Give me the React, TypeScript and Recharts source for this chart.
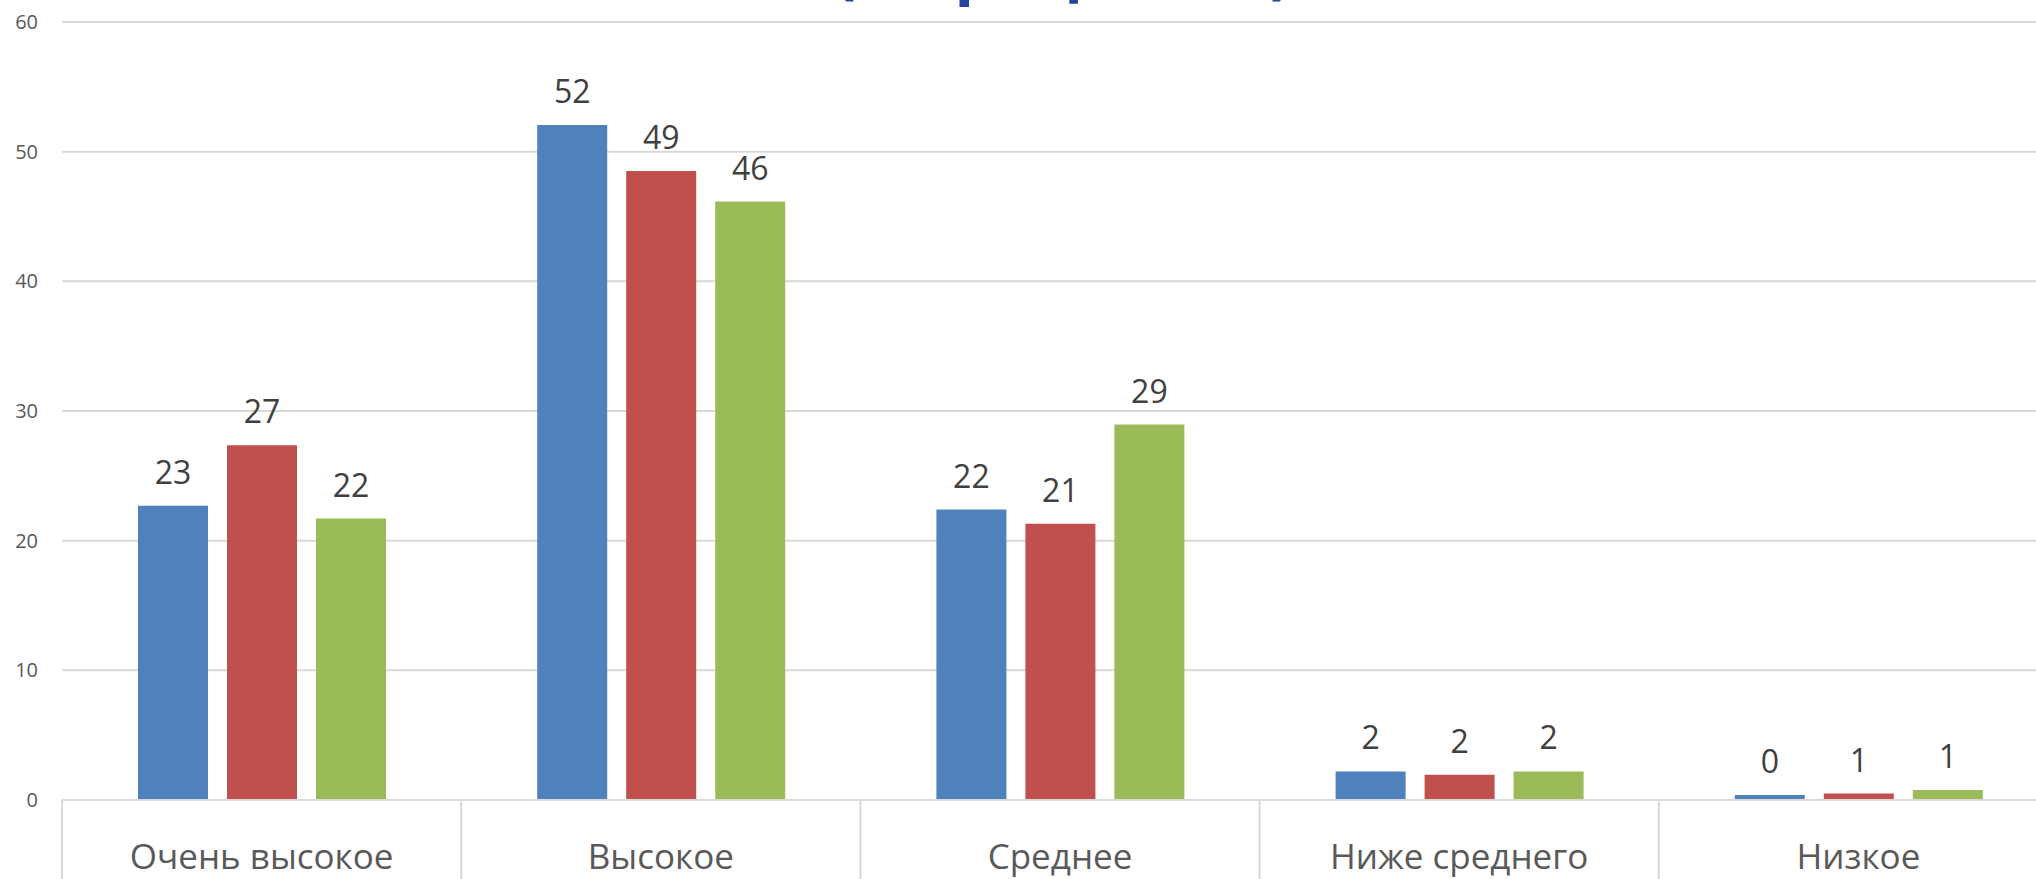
import { BarChart, Bar, XAxis, YAxis, CartesianGrid, LabelList } from "recharts";

const categories = ["Очень высокое", "Высокое", "Среднее", "Ниже среднего", "Низкое"];
const seriesA = [22.7, 52.05, 22.4, 2.2, 0.38];
const seriesB = [27.35, 48.5, 21.3, 1.95, 0.5];
const seriesC = [21.7, 46.15, 28.95, 2.2, 0.77];
const yTicks = [0, 10, 20, 30, 40, 50, 60];

const data = categories.map((name, i) => ({
  name,
  a: seriesA[i],
  b: seriesB[i],
  c: seriesC[i],
}));

const CHART_W = 2060;
const CHART_H = 879;
const Y_W = 62;
const M_RIGHT = 2;
const BAND = (CHART_W - Y_W - M_RIGHT) / categories.length;
const FONT = "'Open Sans', 'Noto Sans', sans-serif";

function CategoryTick(props: any) {
  const { x, y, payload } = props;
  const left = x - BAND / 2;
  return (
    <g>
      <line x1={left} y1={y} x2={left} y2={y + 82} stroke="#d9d9d9" strokeWidth={2} />
      <text x={x} y={y + 69} textAnchor="middle" fill="#595959" fontSize={35} fontFamily={FONT}>
        {payload.value}
      </text>
    </g>
  );
}

const round = (v: any) => Math.round(Number(v));

export default function App() {
  return (
    <div
      style={{
        position: "absolute",
        left: 0,
        top: 0,
        width: 2036,
        height: 879,
        overflow: "hidden",
        background: "#fff",
        fontFamily: FONT,
      }}
    >
      <BarChart
        width={CHART_W}
        height={CHART_H}
        data={data}
        margin={{ top: 22, right: M_RIGHT, left: 0, bottom: 0 }}
        barCategoryGap={76}
        barGap={19}
      >
        <CartesianGrid vertical={false} stroke="#d9d9d9" strokeWidth={2} />
        <XAxis
          dataKey="name"
          height={79}
          axisLine={{ stroke: "#d9d9d9", strokeWidth: 2 }}
          tickLine={false}
          tickSize={0}
          tickMargin={0}
          interval={0}
          tick={<CategoryTick />}
        />
        <YAxis
          width={Y_W}
          domain={[0, 60]}
          ticks={yTicks}
          axisLine={false}
          tickLine={false}
          tickMargin={18}
          tick={{ fill: "#595959", fontSize: 20, fontFamily: FONT }}
        />
        <Bar dataKey="a" fill="#4F81BD" isAnimationActive={false}>
          <LabelList dataKey="a" position="top" offset={22} formatter={round} fill="#404040" fontSize={32} fontFamily={FONT} />
        </Bar>
        <Bar dataKey="b" fill="#C0504D" isAnimationActive={false}>
          <LabelList dataKey="b" position="top" offset={22} formatter={round} fill="#404040" fontSize={32} fontFamily={FONT} />
        </Bar>
        <Bar dataKey="c" fill="#9BBB59" isAnimationActive={false}>
          <LabelList dataKey="c" position="top" offset={22} formatter={round} fill="#404040" fontSize={32} fontFamily={FONT} />
        </Bar>
      </BarChart>
      <svg width={2036} height={40} style={{ position: "absolute", left: 0, top: 0 }}>
        <text x={1063} y={-9} textAnchor="middle" fill="#27439C" fontSize={64} fontWeight="bold" fontFamily={FONT}>
          (в процентах)
        </text>
      </svg>
    </div>
  );
}
